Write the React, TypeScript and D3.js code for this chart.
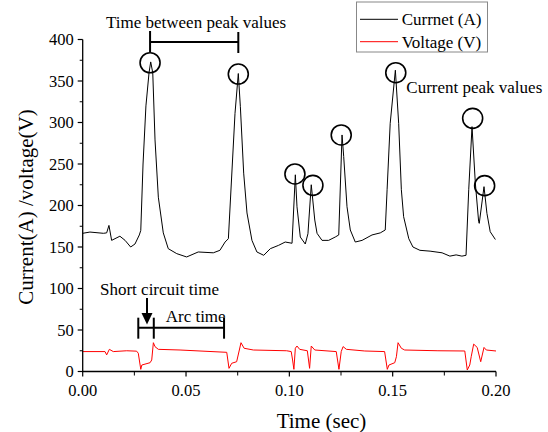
import React from "react";
import * as d3 from "d3";

// ---- data ----
const currentT = [0.0, 0.0035, 0.01, 0.0116, 0.0127, 0.014, 0.018, 0.0205, 0.0232, 0.0253, 0.0274, 0.0281, 0.0292, 0.0306, 0.0321, 0.0329, 0.0339, 0.035, 0.0366, 0.039, 0.0414, 0.0455, 0.0503, 0.0559, 0.0632, 0.0664, 0.0689, 0.0705, 0.0737, 0.0753, 0.0763, 0.0779, 0.0795, 0.0819, 0.0843, 0.0876, 0.0908, 0.0948, 0.098, 0.1013, 0.1029, 0.1037, 0.1053, 0.1077, 0.109, 0.1106, 0.1123, 0.1134, 0.1158, 0.119, 0.1222, 0.1239, 0.1255, 0.1263, 0.1279, 0.1295, 0.1319, 0.1352, 0.14, 0.144, 0.1464, 0.1473, 0.1488, 0.1513, 0.1529, 0.1542, 0.1553, 0.1578, 0.1598, 0.1632, 0.1681, 0.1739, 0.1777, 0.1807, 0.1835, 0.1855, 0.1868, 0.1884, 0.19, 0.1916, 0.1919, 0.1942, 0.1956, 0.1972, 0.1997];
const currentA = [166.5, 168, 166.5, 167, 176, 158, 163, 158, 150, 153.6, 164.5, 170, 250, 320, 360, 373, 360, 279, 210, 167, 148, 142, 138, 144, 143, 146, 156, 160, 311, 359, 319, 239, 191, 158, 144, 140, 148, 152, 156, 154.5, 237, 198.5, 162, 153.6, 166, 225, 182.5, 166.5, 158, 158, 162, 164.5, 285, 259, 198.5, 170.5, 156, 158, 164.5, 167, 170.5, 219, 299, 363, 299, 219, 186.5, 160, 150, 146, 145, 143, 139, 140.5, 139, 140, 219, 295, 227, 180.5, 178.5, 222.7, 190.6, 168.4, 159];

const voltageT = [0.0, 0.0108, 0.0116, 0.0129, 0.0148, 0.0213, 0.0261, 0.0269, 0.0281, 0.0286, 0.0326, 0.0334, 0.0342, 0.035, 0.0366, 0.0471, 0.0697, 0.0708, 0.0721, 0.0745, 0.0758, 0.0766, 0.0781, 0.0826, 0.0987, 0.1009, 0.1015, 0.1022, 0.1029, 0.1037, 0.105, 0.1087, 0.1098, 0.1106, 0.1123, 0.1227, 0.124, 0.1251, 0.126, 0.1276, 0.1365, 0.1461, 0.1474, 0.1482, 0.151, 0.1518, 0.1526, 0.1542, 0.1558, 0.1719, 0.1849, 0.1861, 0.1873, 0.188, 0.1892, 0.1909, 0.1926, 0.1942, 0.1953, 0.2];
const voltageV = [24, 24, 20, 26.7, 24, 25, 24.5, 22, 2.6, 7.8, 10.6, 13.9, 34.7, 29.9, 26.7, 25.9, 23.1, 3.8, 9.9, 11.8, 25.9, 34.7, 28, 25.9, 25, 24, 15, 2.6, 28, 30.7, 26.7, 25, 3.8, 30.7, 25.9, 24, 2.6, 24, 30, 26.7, 24.7, 24, 2.6, 7.8, 10.6, 17.8, 34.7, 28, 25.9, 25, 24.7, 1.8, 7.8, 17.8, 33, 29, 11.8, 29, 25.9, 24.7];

// circled current peaks
const peakT = [0.0326, 0.0753, 0.1027, 0.1114, 0.1251, 0.1515, 0.1887, 0.1945];
const peakA = [372, 358.4, 238, 224.3, 285, 360, 305, 223.9];

const xTicks = [0, 0.05, 0.1, 0.15, 0.2];
const xMinor = [0.025, 0.075, 0.125, 0.175];
const yTicks = [0, 50, 100, 150, 200, 250, 300, 350, 400];
const yMinor = [25, 75, 125, 175, 225, 275, 325, 375];

const seriesNames = ["Currnet (A)", "Voltage (V)"];
const seriesColors = ["#000000", "#ff0000"];

// annotation anchors (data units)
const peakGap = [0.0326, 0.0753]; // time between peak values
const shortCircuit = [0.0269, 0.0344]; // short-circuit interval
const arcEnd = 0.0684;

const W = 548;
const H = 432;
const FONT = "'Liberation Serif', 'Times New Roman', serif";

export default function App() {
  const x = d3.scaleLinear().domain([0, 0.2]).range([82.7, 496]);
  const y = d3.scaleLinear().domain([0, 400]).range([371.5, 39.5]);

  const currentData = currentT.map((t, i) => [t, currentA[i]] as [number, number]);
  const voltageData = voltageT.map((t, i) => [t, voltageV[i]] as [number, number]);
  const line = d3
    .line<[number, number]>()
    .x((d) => x(d[0]))
    .y((d) => y(d[1]));

  const x0 = x(0);
  const y0 = y(0);
  const bracketY = y(397);
  const scY = y(52.8);

  return (
    <svg
      width={W}
      height={H}
      viewBox={`0 0 ${W} ${H}`}
      style={{ position: "absolute", left: 0, top: 0, background: "#fff", display: "block" }}
      fontFamily={FONT}
    >
      <rect x={0} y={0} width={W} height={H} fill="#fff" />

      {/* series */}
      <path d={line(currentData) || ""} fill="none" stroke={seriesColors[0]} strokeWidth={1} strokeLinejoin="round" />
      <path d={line(voltageData) || ""} fill="none" stroke={seriesColors[1]} strokeWidth={1} strokeLinejoin="round" />

      {/* axes */}
      <line x1={x0} x2={x0} y1={y(400)} y2={y0 + 0.5} stroke="#000" strokeWidth={1.3} />
      <line x1={x0 - 0.5} x2={x(0.2)} y1={y0} y2={y0} stroke="#000" strokeWidth={1.3} />
      {yTicks.map((v) => (
        <g key={"y" + v}>
          <line x1={x0 - 5} x2={x0} y1={y(v)} y2={y(v)} stroke="#000" strokeWidth={1.2} />
          <text x={x0 - 9} y={y(v)} dy="0.35em" textAnchor="end" fontSize={16.5}>
            {v}
          </text>
        </g>
      ))}
      {yMinor.map((v) => (
        <line key={"ym" + v} x1={x0 - 3} x2={x0} y1={y(v)} y2={y(v)} stroke="#000" strokeWidth={1} />
      ))}
      {xTicks.map((t) => (
        <g key={"x" + t}>
          <line x1={x(t)} x2={x(t)} y1={y0} y2={y0 + 5} stroke="#000" strokeWidth={1.2} />
          <text x={x(t)} y={396} textAnchor="middle" fontSize={16.5}>
            {t.toFixed(2)}
          </text>
        </g>
      ))}
      {xMinor.map((t) => (
        <line key={"xm" + t} x1={x(t)} x2={x(t)} y1={y0} y2={y0 + 4} stroke="#000" strokeWidth={1} />
      ))}

      {/* axis titles */}
      <text x={321.5} y={428} textAnchor="middle" fontSize={21}>
        Time (sec)
      </text>
      <text transform="translate(33,207) rotate(-90)" textAnchor="middle" fontSize={21}>
        Current(A) /voltage(V)
      </text>

      {/* peak circles */}
      {peakT.map((t, i) => (
        <circle key={"c" + i} cx={x(t)} cy={y(peakA[i])} r={10} fill="none" stroke="#000" strokeWidth={1.6} />
      ))}

      {/* time between peaks */}
      <text x={106} y={28.3} fontSize={17}>
        Time between peak values
      </text>
      <g stroke="#000" strokeWidth={2}>
        <line x1={x(peakGap[0])} x2={x(peakGap[1])} y1={bracketY} y2={bracketY} />
        <line x1={x(peakGap[0])} x2={x(peakGap[0])} y1={bracketY - 11} y2={bracketY + 10} />
        <line x1={x(peakGap[1])} x2={x(peakGap[1])} y1={bracketY - 10} y2={bracketY + 11} />
      </g>

      <text x={406.3} y={93.3} fontSize={17}>
        Current peak values
      </text>

      {/* short circuit / arc time */}
      <text x={100} y={295} fontSize={17}>
        Short circuit time
      </text>
      <line x1={147} x2={147} y1={298} y2={314} stroke="#000" strokeWidth={2} />
      <path d="M141.5,313 L152.5,313 L147,324.5 Z" fill="#000" />
      <g stroke="#000" strokeWidth={2}>
        <line x1={x(shortCircuit[0])} x2={x(arcEnd)} y1={scY} y2={scY} />
        <line x1={x(shortCircuit[0])} x2={x(shortCircuit[0])} y1={scY - 10} y2={scY + 11} />
        <line x1={x(shortCircuit[1])} x2={x(shortCircuit[1])} y1={scY - 10} y2={scY + 11} />
        <line x1={x(arcEnd)} x2={x(arcEnd)} y1={scY - 10} y2={scY + 11} />
      </g>
      <text x={165.7} y={322} fontSize={17}>
        Arc time
      </text>

      {/* legend */}
      <rect x={356.5} y={2} width={131} height={50} fill="#fff" stroke="#888" strokeWidth={1} />
      {seriesNames.map((name, i) => (
        <g key={name}>
          <line x1={360} x2={398} y1={19.3 + i * 22.4} y2={19.3 + i * 22.4} stroke={seriesColors[i]} strokeWidth={1} />
          <text x={401.7} y={25 + i * 22.8} fontSize={17}>
            {name}
          </text>
        </g>
      ))}
    </svg>
  );
}
